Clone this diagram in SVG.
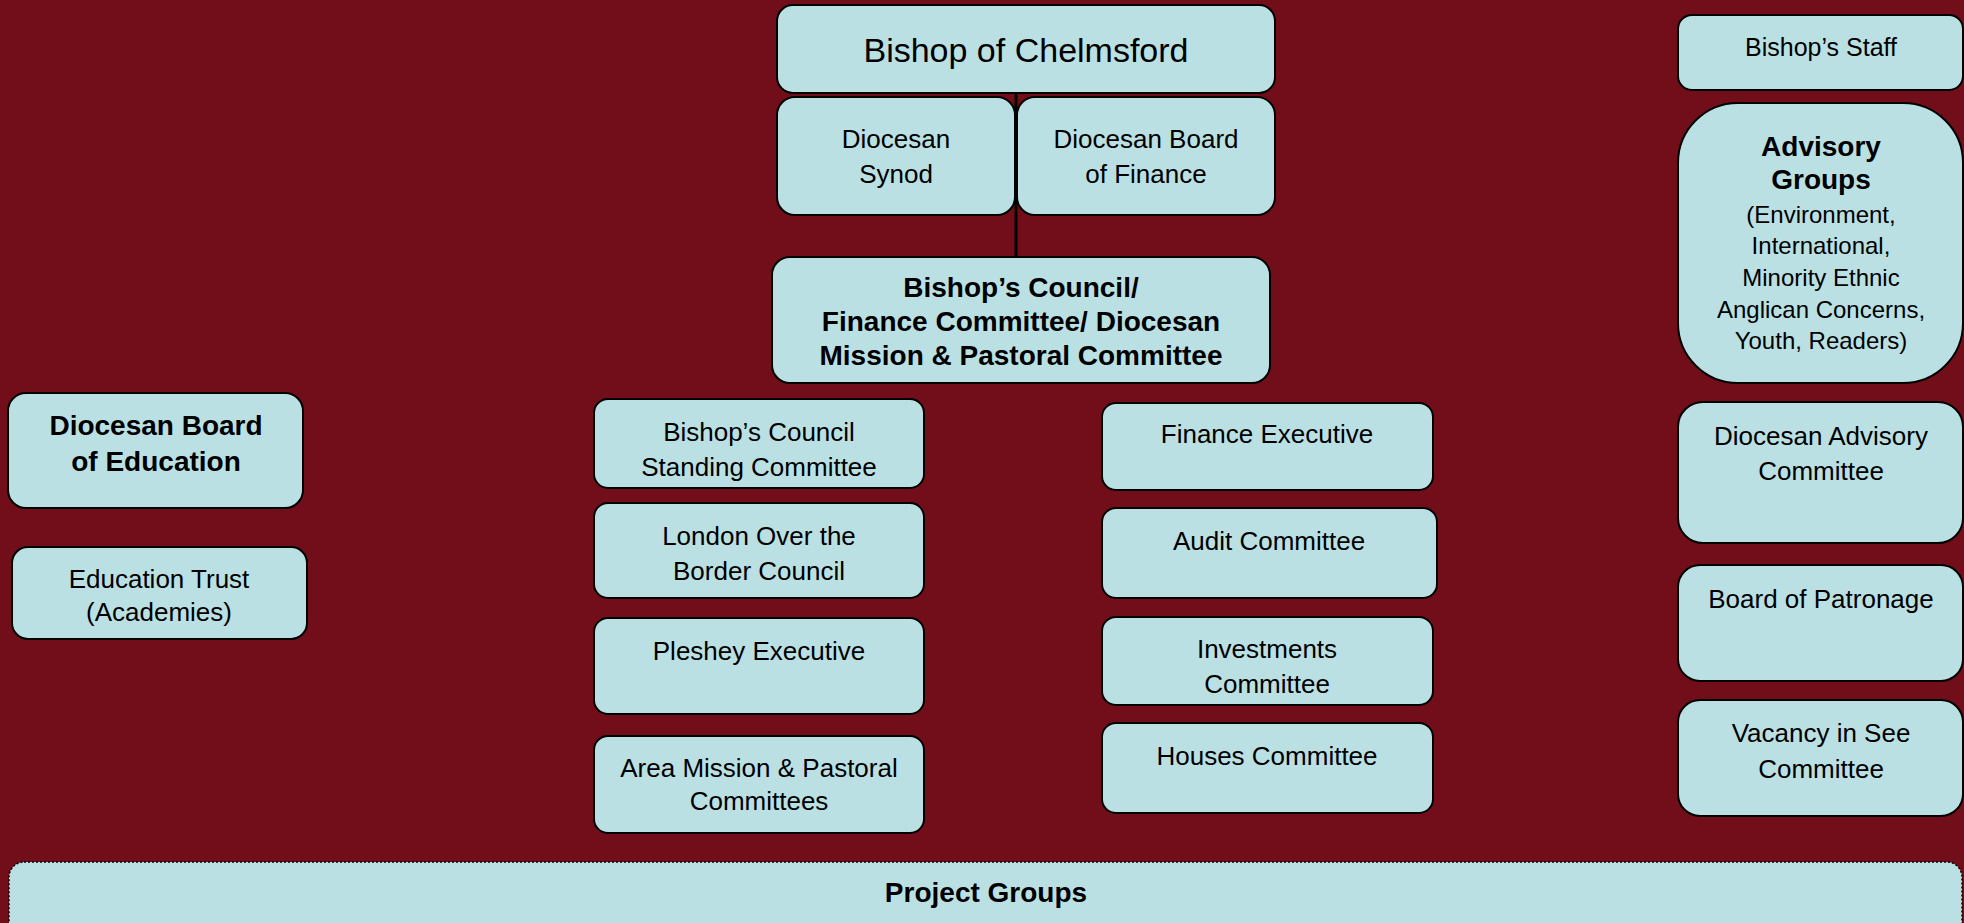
<svg xmlns="http://www.w3.org/2000/svg" width="1964" height="923" viewBox="0 0 1964 923">
<style>
.bx{fill:#BBE0E3;stroke:#000;stroke-width:2}
.t{font-family:"Liberation Sans",Arial,sans-serif;font-size:26px;fill:#000;text-anchor:middle}
.b{font-weight:bold;font-size:28px}
.s{font-size:24px}
.big{font-size:34px}
</style>
<rect width="1964" height="923" fill="#710E1A"/>
<g id="connectors">
<line x1="1016" y1="93" x2="1016" y2="257" stroke="#000" stroke-width="3"/>
</g>
<g id="bishop"><rect class="bx" x="777" y="5" width="498" height="88" rx="16"/><text class="t big" x="1026" y="62">Bishop of Chelmsford</text></g>
<g id="synod"><rect class="bx" x="777" y="97" width="238" height="118" rx="18"/><text class="t" x="896" y="148">Diocesan</text><text class="t" x="896" y="183">Synod</text></g>
<g id="dbf"><rect class="bx" x="1017" y="97" width="258" height="118" rx="18"/><text class="t" x="1146" y="148">Diocesan Board</text><text class="t" x="1146" y="183">of Finance</text></g>
<g id="council"><rect class="bx" x="772" y="257" width="498" height="126" rx="18"/><text class="t b" x="1021" y="297">Bishop’s Council/</text><text class="t b" x="1021" y="331">Finance Committee/ Diocesan</text><text class="t b" x="1021" y="365">Mission &amp; Pastoral Committee</text></g>
<g id="dbe"><rect class="bx" x="8" y="393" width="295" height="115" rx="18"/><text class="t b" x="156" y="435">Diocesan Board</text><text class="t b" x="156" y="471">of Education</text></g>
<g id="edtrust"><rect class="bx" x="12" y="547" width="295" height="92" rx="16"/><text class="t" x="159" y="588">Education Trust</text><text class="t" x="159" y="621">(Academies)</text></g>
<g id="bcsc"><rect class="bx" x="594" y="399" width="330" height="89" rx="14"/><text class="t" x="759" y="441">Bishop’s Council</text><text class="t" x="759" y="476">Standing Committee</text></g>
<g id="lobc"><rect class="bx" x="594" y="503" width="330" height="95" rx="14"/><text class="t" x="759" y="545">London Over the</text><text class="t" x="759" y="580">Border Council</text></g>
<g id="pleshey"><rect class="bx" x="594" y="618" width="330" height="96" rx="14"/><text class="t" x="759" y="660">Pleshey Executive</text></g>
<g id="amp"><rect class="bx" x="594" y="736" width="330" height="97" rx="14"/><text class="t" x="759" y="777">Area Mission &amp; Pastoral</text><text class="t" x="759" y="810">Committees</text></g>
<g id="finexec"><rect class="bx" x="1102" y="403" width="331" height="87" rx="14"/><text class="t" x="1267" y="443">Finance Executive</text></g>
<g id="audit"><rect class="bx" x="1102" y="508" width="335" height="90" rx="14"/><text class="t" x="1269" y="550">Audit Committee</text></g>
<g id="invest"><rect class="bx" x="1102" y="617" width="331" height="88" rx="14"/><text class="t" x="1267" y="658">Investments</text><text class="t" x="1267" y="693">Committee</text></g>
<g id="houses"><rect class="bx" x="1102" y="723" width="331" height="90" rx="14"/><text class="t" x="1267" y="765">Houses Committee</text></g>
<g id="staff"><rect class="bx" x="1678" y="15" width="285" height="75" rx="14"/><text class="t" x="1821" y="56" style="font-size:25px">Bishop’s Staff</text></g>
<g id="advisory"><rect class="bx" x="1678" y="103" width="285" height="280" rx="60"/><text class="t b" x="1821" y="156">Advisory</text><text class="t b" x="1821" y="189">Groups</text><text class="t s" x="1821" y="223">(Environment,</text><text class="t s" x="1821" y="254">International,</text><text class="t s" x="1821" y="286">Minority Ethnic</text><text class="t s" x="1821" y="318">Anglican Concerns,</text><text class="t s" x="1821" y="349">Youth, Readers)</text></g>
<g id="dac"><rect class="bx" x="1678" y="402" width="285" height="141" rx="25"/><text class="t" x="1821" y="445">Diocesan Advisory</text><text class="t" x="1821" y="480">Committee</text></g>
<g id="patronage"><rect class="bx" x="1678" y="565" width="285" height="116" rx="22"/><text class="t" x="1821" y="608">Board of Patronage</text></g>
<g id="vacancy"><rect class="bx" x="1678" y="700" width="285" height="116" rx="22"/><text class="t" x="1821" y="742">Vacancy in See</text><text class="t" x="1821" y="778">Committee</text></g>
<g id="project"><rect x="9" y="862" width="1953" height="80" rx="15" fill="#BBE0E3" stroke="#000" stroke-width="1.5" stroke-dasharray="2 2"/><text class="t b" x="986" y="902">Project Groups</text></g>
</svg>
